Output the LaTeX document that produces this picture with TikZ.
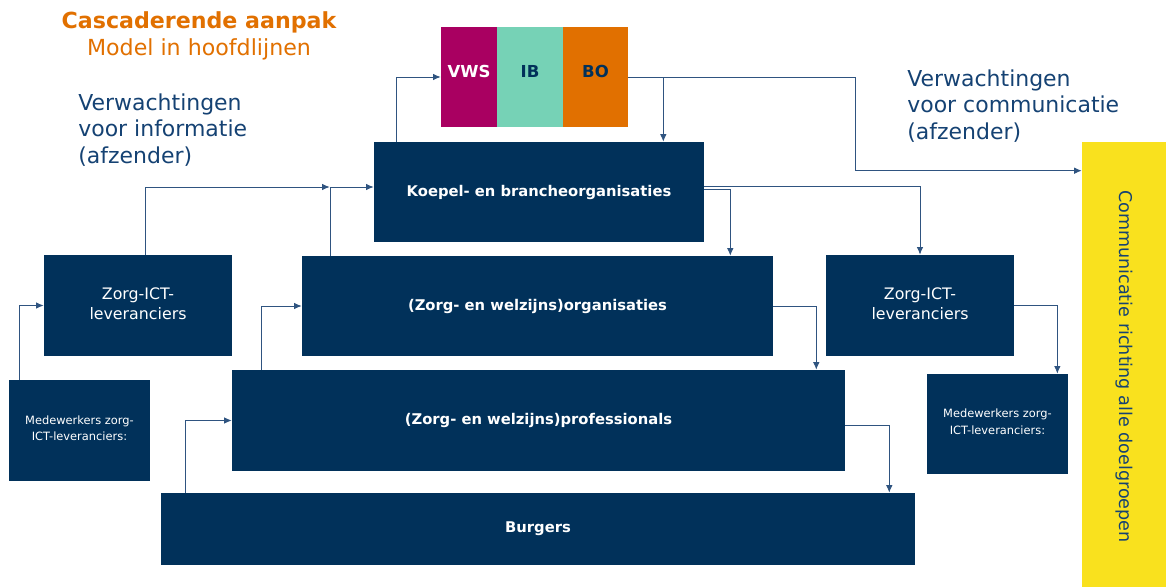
\documentclass[tikz,border=0pt]{standalone}
\usepackage{fontspec}
\setmainfont{DejaVu Sans}
\usetikzlibrary{arrows.meta, positioning}
\definecolor{box navy}{HTML}{01315A}
\definecolor{line blue}{HTML}{2F5480}
\definecolor{text blue}{HTML}{154273}
\definecolor{rvo orange}{HTML}{E17000}
\definecolor{vws red}{HTML}{A90061}
\definecolor{ib green}{HTML}{76D2B6}
\definecolor{comm yellow}{HTML}{F9E11E}
\tikzset{
  block/.style={fill=box navy, text=white, inner sep=0pt, font=\bfseries\fontsize{8.4}{10}\selectfont},
  supplier/.style={fill=box navy, text=white, inner sep=0pt, align=center, font=\fontsize{9}{11}\selectfont},
  staff/.style={fill=box navy, text=white, inner sep=0pt, align=center, font=\fontsize{6.5}{8.7}\selectfont},
  party/.style={inner sep=0pt, minimum height=2cm, font=\bfseries\fontsize{9.4}{11}\selectfont},
  expect/.style={inner sep=0pt, align=left, anchor=north west, text=text blue, font=\fontsize{12.5}{15.3}\selectfont},
  link/.style={-{Latex[length=1.5mm,width=1.3mm]}, draw=line blue, line width=0.5pt}
}

\begin{document}
\begin{tikzpicture}[x=0.02cm, y=-0.02cm]
    \useasboundingbox (0,0) rectangle (1166,587);
    % titel
    \node[align=center, text=rvo orange, font=\fontsize{12.6}{15.3}\selectfont] (title) at (199,36)
      {{\bfseries Cascaderende aanpak}\\Model in hoofdlijnen};
    \node[expect] (infotext) at (78,93) {Verwachtingen\\voor informatie\\(afzender)};
    \node[expect] (commtext) at (907,69) {Verwachtingen\\voor communicatie\\(afzender)};
    % opdrachtgevers
    \node[party, fill=vws red, text=white, minimum width=1.12cm] (vws) at (469,77) {\raisebox{2.2mm}{VWS}};
    \node[party, fill=ib green, text=box navy, minimum width=1.32cm] (ib) at (530,77) {\raisebox{2.2mm}{IB}};
    \node[party, fill=rvo orange, text=box navy, minimum width=1.3cm] (bo) at (595.5,77) {\raisebox{2.2mm}{BO}};
    % cascade
    \node[block, minimum width=6.6cm, minimum height=2cm] (koepel) at (539,192) {Koepel- en brancheorganisaties};
    \node[block, minimum width=9.42cm, minimum height=2cm] (org) at (537.5,306) {(Zorg- en welzijns)organisaties};
    \node[block, minimum width=12.26cm, minimum height=2.02cm] (prof) at (538.5,420.5) {(Zorg- en welzijns)professionals};
    \node[block, minimum width=15.08cm, minimum height=1.44cm] (burg) at (538,529) {Burgers};
    \node[supplier, minimum width=3.76cm, minimum height=2.02cm] (zictl) at (138,305.5) {\raisebox{0.8mm}{\shortstack{Zorg-ICT-\\leveranciers}}};
    \node[supplier, minimum width=3.76cm, minimum height=2.02cm] (zictr) at (920,305.5) {\raisebox{0.8mm}{\shortstack{Zorg-ICT-\\leveranciers}}};
    \node[staff, minimum width=2.82cm, minimum height=2.02cm] (medl) at (79.5,430.5) {\raisebox{1mm}{\shortstack{Medewerkers zorg-\\ICT-leveranciers:}}};
    \node[staff, minimum width=2.82cm, minimum height=2cm] (medr) at (997.5,424) {\raisebox{1mm}{\shortstack{Medewerkers zorg-\\ICT-leveranciers:}}};
    \node[fill=comm yellow, minimum width=1.68cm, minimum height=8.9cm, inner sep=0pt] (comm) at (1124,364.5) {};
    \node[rotate=-90, text=text blue, font=\fontsize{10}{12}\selectfont] (commlabel) at ([yshift=-0.04cm]comm.center) {Communicatie richting alle doelgroepen};
    % verbindingen
    \draw[link] ([xshift=0.46cm]koepel.north west) |- (vws.west);
    \draw[link] (bo.east) -| ([xshift=-0.82cm]koepel.north east);
    \draw[link] (bo.east) -- ++(4.54cm,0) |- ([yshift=-0.58cm]comm.north west);
    \draw[link] ([xshift=0.14cm]zictl.north) |- ([shift={(-0.88cm,0.1cm)}]koepel.west);
    \draw[link] ([xshift=0.58cm]org.north west) |- ([yshift=0.1cm]koepel.west);
    \draw[link] ([yshift=0.06cm]koepel.east) -| ([xshift=-0.86cm]org.north east);
    \draw[link] ([yshift=0.12cm]koepel.east) -| (zictr.north);
    \draw[link] ([xshift=-1.21cm]medl.north) |- (zictl.west);
    \draw[link] ([xshift=0.6cm]prof.north west) |- (org.west);
    \draw[link] ([xshift=0.5cm]burg.north west) |- (prof.west);
    \draw[link] (org.east) -| ([xshift=-0.58cm]prof.north east);
    \draw[link] ([yshift=-0.1cm]prof.east) -| ([xshift=-0.52cm]burg.north east);
    \draw[link] (zictr.east) -| ([xshift=-0.22cm]medr.north east);
\end{tikzpicture}
\end{document}
